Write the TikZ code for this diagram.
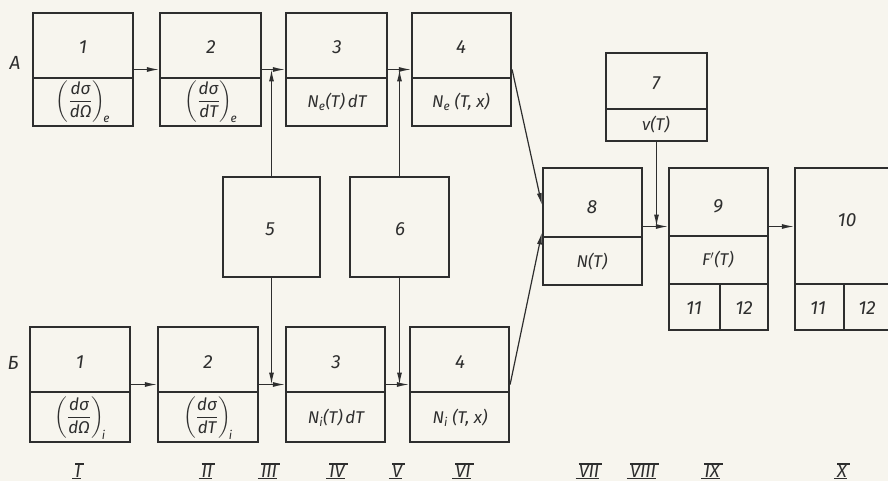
\documentclass[tikz,border=0pt]{standalone}
\usepackage{fontspec}
\usepackage{amsmath}
\setmainfont{Fira Sans}
\usetikzlibrary{arrows.meta,calc}
\definecolor{paper}{HTML}{F7F5EE}
\definecolor{ink}{HTML}{2E2E2E}
\begin{document}
\begin{tikzpicture}[x=1pt,y=-1pt,
  blk/.style={draw=ink,line width=2.2pt,inner sep=0pt},
  div/.style={draw=ink,line width=1.5pt},
  arr/.style={draw=ink,line width=1.2pt,-{Latex[length=12pt,width=5pt]}},
  lbl/.style={font=\itshape\fontsize{19}{19}\selectfont,text=ink,inner sep=0pt},
  fml/.style={font=\itshape\fontsize{17}{17}\selectfont,text=ink,inner sep=0pt},
  rn/.style={font=\itshape\fontsize{18}{18}\selectfont,text=ink,inner xsep=1.5pt,
    inner ysep=1pt,text height=12pt,text depth=0pt},
  bar/.style={draw=ink,line width=1.4pt}]
\useasboundingbox (0,0) rectangle (888,481);
\fill[paper] (0,0) rectangle (888,481);
\clip (0,0) rectangle (888,481);

% row A
\node[blk,minimum width=100pt,minimum height=113pt] (a1) at (83,69.5) {};
\node[blk,minimum width=101pt,minimum height=113pt] (a2) at (210.5,69.5) {};
\node[blk,minimum width=101pt,minimum height=113pt] (a3) at (336.5,69.5) {};
\node[blk,minimum width=99pt,minimum height=113pt] (a4) at (461.5,69.5) {};
\draw[div] (33,78) -- (133,78);
\draw[div] (160,78) -- (261,78);
\draw[div] (286,78) -- (387,78);
\draw[div] (412,78) -- (511,78);

% row B
\node[blk,minimum width=100pt,minimum height=115pt] (b1) at (80,384.5) {};
\node[blk,minimum width=100pt,minimum height=115pt] (b2) at (208,384.5) {};
\node[blk,minimum width=99pt,minimum height=115pt] (b3) at (335.5,384.5) {};
\node[blk,minimum width=99pt,minimum height=115pt] (b4) at (459.5,384.5) {};
\draw[div] (30,392) -- (130,392);
\draw[div] (158,392) -- (258,392);
\draw[div] (286,392) -- (385,392);
\draw[div] (410,392) -- (509,392);

% middle blocks
\node[blk,minimum width=97pt,minimum height=100pt] (b5) at (271.5,227) {};
\node[blk,minimum width=99pt,minimum height=100pt] (b6) at (399.5,227) {};

% right part
\node[blk,minimum width=101pt,minimum height=88pt] (b7) at (656.5,97) {};
\draw[div] (606,109) -- (707,109);
\node[blk,minimum width=99pt,minimum height=117pt] (b8) at (592.5,226.5) {};
\draw[div] (543,237) -- (642,237);
\node[blk,minimum width=99pt,minimum height=162pt] (b9) at (718.5,249) {};
\draw[div] (669,236) -- (768,236);
\draw[div] (669,284) -- (768,284);
\draw[div] (720,284) -- (720,330);
\node[blk,minimum width=110pt,minimum height=162pt] (b10) at (850,249) {};
\draw[div] (795,284) -- (905,284);
\draw[div] (844,284) -- (844,330);

% texts
\node[lbl] (ta) at (15,63) {A};
\node[lbl] (tb) at (13,363) {Б};

\node[lbl] (n1a) at (83,47) {1};
\node[fml] (f1a) at (83,102) {$\left(\dfrac{\text{dσ}}{\text{dΩ}}\right)_{\!\text{e}}$};
\node[lbl] (n2a) at (211,47) {2};
\node[fml] (f2a) at (211,102) {$\left(\dfrac{\text{dσ}}{\text{dT}}\right)_{\!\text{e}}$};
\node[lbl] (n3a) at (337,47) {3};
\node[fml] (f3a) at (337,102) {N\textsubscript{e}(T)\,dT};
\node[lbl] (n4a) at (461,47) {4};
\node[fml] (f4a) at (461,102) {N\textsubscript{e} (T, x)};

\node[lbl] (n1b) at (80,362) {1};
\node[fml] (f1b) at (80,418) {$\left(\dfrac{\text{dσ}}{\text{dΩ}}\right)_{\!\text{i}}$};
\node[lbl] (n2b) at (208,362) {2};
\node[fml] (f2b) at (208,418) {$\left(\dfrac{\text{dσ}}{\text{dT}}\right)_{\!\text{i}}$};
\node[lbl] (n3b) at (336,362) {3};
\node[fml] (f3b) at (336,418) {N\textsubscript{i}(T)\,dT};
\node[lbl] (n4b) at (460,362) {4};
\node[fml] (f4b) at (460,418) {N\textsubscript{i} (T, x)};

\node[lbl] (n5) at (270,229) {5};
\node[lbl] (n6) at (400,229) {6};
\node[lbl] (n7) at (656,83) {7};
\node[fml] (f7) at (656,125) {ν(T)};
\node[lbl] (n8) at (592,207) {8};
\node[fml] (f8) at (592,262) {N(T)};
\node[lbl] (n9) at (718,206) {9};
\node[fml] (f9) at (718,260) {F$'$(T)};
\node[lbl] (n9a) at (694,308) {11};
\node[lbl] (n9b) at (744,308) {12};
\node[lbl] (n10) at (847,220) {10};
\node[lbl] (n10a) at (818,308) {11};
\node[lbl] (n10b) at (867,308) {12};

% stage numerals, with the bars above and below
\node[rn] (r1) at (78,471) {I};
\node[rn] (r2) at (207,471) {II};
\node[rn] (r3) at (269,471) {III};
\node[rn] (r4) at (337,471) {IV};
\node[rn] (r5) at (397,471) {V};
\node[rn] (r6) at (463,471) {VI};
\node[rn] (r7) at (589,471) {VII};
\node[rn] (r8) at (643,471) {VIII};
\node[rn] (r9) at (712,471) {IX};
\node[rn] (r10) at (842,471) {X};
\foreach \r in {r1,r2,r3,r4,r5,r6,r7,r8,r9,r10}
  \draw[bar] ([xshift=1.5pt]\r.north west) -- ([xshift=1.5pt]\r.north east)
             ([xshift=-1.5pt]\r.south west) -- ([xshift=-1.5pt]\r.south east);

% connectors
\draw[arr] (a1.east) -- (a2.west);
\draw[arr] (a2.east) -- (a3.west);
\draw[arr] (a3.east) -- (a4.west);
\draw[arr] (b1.east) -- (b2.west);
\draw[arr] (b2.east) -- (b3.west);
\draw[arr] (b3.east) -- (b4.west);
\draw[arr] (b5.north) -- (b5.north |- a3.west);
\draw[arr] (b5.south) -- (b5.south |- b3.west);
\draw[arr] (b6.north) -- (b6.north |- a4.west);
\draw[arr] (b6.south) -- (b6.south |- b4.west);
\draw[arr] (a4.east) -- ($(b8.north west)!0.32!(b8.south west)$);
\draw[arr] (b4.east) -- ($(b8.north west)!0.55!(b8.south west)$);
\draw[arr] (b7.south) -- (b7.south |- b8.east);
\draw[arr] (b8.east) -- (b9.west |- b8.east);
\draw[arr] (b9.east |- b8.east) -- (b10.west |- b8.east);
\end{tikzpicture}
\end{document}
